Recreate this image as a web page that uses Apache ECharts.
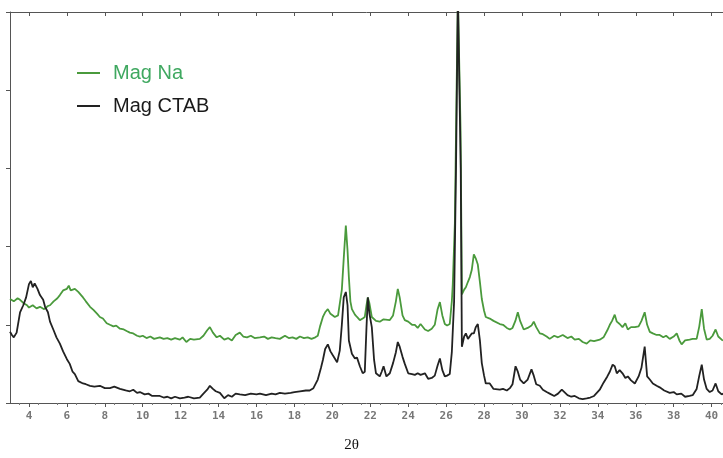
<!DOCTYPE html>
<html>
<head>
<meta charset="utf-8">
<script src="https://cdn.jsdelivr.net/npm/echarts@6/dist/echarts.min.js"></script>
<style>html,body{margin:0;padding:0;background:#fff}#c{width:723px;height:458px}</style>
</head>
<body>
<div id="c"></div>
<script>
// 2θ tick labels
var tickLabels = [4,6,8,10,12,14,16,18,20,22,24,26,28,30,32,34,36,38,40];
var seriesNames = ['Mag Na', 'Mag CTAB'];

// Mag Na (green) : [2θ, intensity]
var magNa = [
[3.0,1.33],[3.2,1.30],[3.4,1.34],[3.53,1.32],[3.7,1.28],[3.9,1.25],[4.0,1.22],[4.2,1.25],[4.4,1.21],[4.58,1.23],
[4.8,1.20],[5.0,1.24],[5.11,1.25],[5.3,1.30],[5.5,1.34],[5.63,1.38],[5.8,1.44],[6.0,1.46],[6.1,1.50],[6.2,1.44],
[6.42,1.46],[6.6,1.42],[6.85,1.35],[7.0,1.30],[7.22,1.23],[7.4,1.19],[7.6,1.14],[7.74,1.10],[7.9,1.08],[8.1,1.02],
[8.27,1.00],[8.45,0.98],[8.6,0.99],[8.8,0.95],[9.0,0.94],[9.15,0.92],[9.32,0.90],[9.5,0.89],[9.7,0.86],[9.85,0.85],
[10.0,0.86],[10.2,0.83],[10.4,0.85],[10.6,0.82],[10.9,0.84],[11.1,0.82],[11.3,0.83],[11.5,0.81],[11.7,0.83],[11.96,0.81],
[12.1,0.84],[12.3,0.78],[12.5,0.82],[12.7,0.81],[13.01,0.82],[13.2,0.86],[13.4,0.93],[13.54,0.97],[13.7,0.90],[13.9,0.84],
[14.07,0.86],[14.3,0.81],[14.5,0.83],[14.7,0.80],[14.9,0.87],[15.12,0.90],[15.3,0.85],[15.5,0.84],[15.7,0.86],[15.9,0.83],
[16.18,0.84],[16.4,0.85],[16.6,0.82],[16.8,0.84],[17.0,0.83],[17.23,0.82],[17.5,0.86],[17.7,0.83],[17.9,0.84],[18.1,0.82],
[18.29,0.85],[18.5,0.83],[18.7,0.84],[18.9,0.82],[19.1,0.84],[19.23,0.86],[19.35,0.98],[19.5,1.10],[19.62,1.16],[19.76,1.20],
[19.9,1.14],[20.13,1.10],[20.3,1.12],[20.39,1.14],[20.5,1.45],[20.6,1.85],[20.71,2.27],[20.8,1.95],[20.87,1.61],[20.95,1.30],
[21.03,1.20],[21.19,1.13],[21.3,1.10],[21.45,1.06],[21.6,1.08],[21.71,1.10],[21.8,1.25],[21.87,1.35],[21.95,1.28],[22.08,1.10],
[22.3,1.05],[22.5,1.04],[22.7,1.07],[23.03,1.06],[23.2,1.12],[23.35,1.30],[23.45,1.46],[23.55,1.35],[23.7,1.12],[23.82,1.06],
[24.0,1.04],[24.2,1.00],[24.35,1.00],[24.5,0.96],[24.65,1.01],[24.88,0.94],[25.05,0.92],[25.24,0.95],[25.4,1.00],[25.55,1.20],
[25.67,1.29],[25.8,1.12],[25.93,1.01],[26.05,0.99],[26.19,1.01],[26.3,1.30],[26.35,1.52],[26.46,2.3],[26.55,4.0],[26.62,5.2],
[26.7,5.2],[26.76,3.5],[26.83,1.39],[26.95,1.45],[27.04,1.48],[27.15,1.55],[27.25,1.61],[27.35,1.70],[27.46,1.90],[27.56,1.85],
[27.67,1.77],[27.78,1.55],[27.88,1.33],[28.0,1.18],[28.09,1.10],[28.3,1.08],[28.5,1.05],[28.83,1.01],[29.0,1.00],[29.2,0.96],
[29.36,0.94],[29.5,0.96],[29.65,1.05],[29.78,1.16],[29.9,1.05],[30.09,0.94],[30.3,0.96],[30.5,0.99],[30.62,1.04],[30.75,0.97],
[30.94,0.89],[31.1,0.88],[31.3,0.85],[31.46,0.82],[31.7,0.86],[31.9,0.84],[32.15,0.87],[32.4,0.83],[32.6,0.85],[32.78,0.81],
[33.0,0.82],[33.2,0.78],[33.41,0.76],[33.6,0.80],[33.8,0.79],[34.1,0.81],[34.3,0.84],[34.5,0.93],[34.63,1.00],[34.75,1.05],
[34.89,1.13],[35.0,1.04],[35.15,1.01],[35.3,0.97],[35.45,1.02],[35.58,0.94],[35.75,0.97],[35.95,0.97],[36.15,0.98],[36.3,1.05],
[36.47,1.16],[36.6,1.00],[36.74,0.91],[36.9,0.89],[37.1,0.87],[37.26,0.87],[37.45,0.84],[37.6,0.86],[37.79,0.82],[38.0,0.85],
[38.16,0.89],[38.3,0.80],[38.42,0.75],[38.6,0.80],[38.84,0.81],[39.0,0.82],[39.21,0.82],[39.35,0.98],[39.48,1.20],[39.6,0.95],
[39.74,0.81],[39.9,0.82],[40.05,0.86],[40.21,0.94],[40.35,0.85],[40.53,0.81],[40.6,0.80]
];

// Mag CTAB (black) : [2θ, intensity]
var magCTAB = [
[3.0,0.91],[3.1,0.87],[3.2,0.84],[3.35,0.90],[3.53,1.16],[3.7,1.25],[3.85,1.35],[4.0,1.52],[4.1,1.56],[4.2,1.48],
[4.3,1.53],[4.45,1.46],[4.58,1.38],[4.75,1.32],[4.85,1.23],[5.0,1.16],[5.11,1.04],[5.3,0.93],[5.45,0.84],[5.63,0.76],
[5.8,0.66],[6.0,0.56],[6.15,0.50],[6.3,0.40],[6.42,0.37],[6.6,0.28],[6.85,0.25],[7.0,0.24],[7.22,0.22],[7.45,0.21],
[7.74,0.22],[8.0,0.19],[8.27,0.19],[8.5,0.21],[8.8,0.18],[9.1,0.16],[9.32,0.15],[9.5,0.17],[9.7,0.13],[9.85,0.14],
[10.1,0.11],[10.3,0.12],[10.5,0.09],[10.9,0.09],[11.1,0.07],[11.3,0.08],[11.5,0.06],[11.7,0.08],[11.96,0.06],[12.2,0.07],
[12.4,0.08],[12.7,0.06],[13.01,0.07],[13.2,0.12],[13.4,0.17],[13.54,0.22],[13.7,0.18],[13.85,0.15],[14.07,0.13],[14.3,0.06],
[14.5,0.10],[14.7,0.08],[14.9,0.12],[15.12,0.11],[15.4,0.10],[15.7,0.12],[16.0,0.11],[16.18,0.12],[16.5,0.10],[16.8,0.12],
[17.0,0.11],[17.23,0.13],[17.5,0.12],[17.8,0.13],[18.0,0.14],[18.29,0.15],[18.6,0.16],[18.8,0.16],[19.0,0.19],[19.23,0.30],
[19.4,0.45],[19.5,0.55],[19.62,0.69],[19.76,0.75],[19.9,0.66],[20.0,0.62],[20.13,0.57],[20.25,0.52],[20.39,0.67],[20.5,1.0],
[20.6,1.35],[20.71,1.42],[20.8,1.25],[20.87,0.80],[21.03,0.63],[21.19,0.57],[21.3,0.58],[21.45,0.47],[21.6,0.38],[21.71,0.40],
[21.8,0.97],[21.87,1.35],[21.95,1.15],[22.08,0.97],[22.2,0.55],[22.3,0.38],[22.5,0.34],[22.6,0.40],[22.7,0.47],[22.85,0.34],
[23.03,0.38],[23.2,0.51],[23.35,0.65],[23.45,0.78],[23.55,0.72],[23.7,0.59],[23.82,0.50],[24.0,0.38],[24.2,0.37],[24.35,0.36],
[24.5,0.38],[24.65,0.36],[24.88,0.38],[25.05,0.31],[25.24,0.32],[25.4,0.35],[25.55,0.48],[25.67,0.57],[25.8,0.42],[25.93,0.34],
[26.05,0.35],[26.19,0.37],[26.3,0.65],[26.42,1.3],[26.52,3.0],[26.62,5.2],[26.7,5.2],[26.77,3.0],[26.83,0.72],[26.95,0.85],
[27.04,0.89],[27.15,0.82],[27.25,0.81],[27.35,0.89],[27.46,0.89],[27.56,0.97],[27.67,1.01],[27.78,0.80],[27.88,0.51],[28.0,0.35],
[28.09,0.25],[28.3,0.25],[28.5,0.18],[28.83,0.17],[29.0,0.18],[29.2,0.16],[29.36,0.19],[29.5,0.24],[29.66,0.47],[29.78,0.40],
[29.9,0.30],[30.09,0.25],[30.3,0.30],[30.5,0.43],[30.62,0.35],[30.75,0.24],[30.94,0.22],[31.1,0.17],[31.3,0.14],[31.46,0.12],
[31.7,0.09],[31.9,0.12],[32.1,0.17],[32.2,0.19],[32.4,0.10],[32.6,0.08],[32.78,0.09],[33.0,0.06],[33.2,0.05],[33.41,0.06],
[33.6,0.07],[33.8,0.09],[34.1,0.17],[34.3,0.26],[34.5,0.34],[34.63,0.40],[34.78,0.49],[34.89,0.47],[35.0,0.38],[35.15,0.42],
[35.3,0.38],[35.45,0.32],[35.58,0.34],[35.75,0.29],[35.95,0.25],[36.15,0.34],[36.3,0.45],[36.47,0.72],[36.6,0.34],[36.74,0.30],
[36.9,0.25],[37.1,0.22],[37.26,0.20],[37.5,0.16],[37.79,0.13],[38.0,0.14],[38.16,0.11],[38.4,0.12],[38.6,0.08],[38.84,0.09],
[39.0,0.10],[39.21,0.18],[39.35,0.35],[39.48,0.49],[39.6,0.30],[39.74,0.18],[39.9,0.14],[40.05,0.16],[40.21,0.25],[40.35,0.15],
[40.53,0.11],[40.6,0.12]
];

var chart = echarts.init(document.getElementById('c'), null, {renderer: 'canvas'});
var axisColor = '#555';
chart.setOption({
  animation: false,
  backgroundColor: '#fff',
  grid: {left: 10, top: 12, right: 0, bottom: 51},
  legend: {
    orient: 'vertical',
    left: 72, top: 58,
    itemWidth: 23, itemHeight: 2,
    itemGap: 13,
    icon: 'rect',
    textStyle: {fontFamily: 'Liberation Sans', fontSize: 20, lineHeight: 20, padding: [0, 0, 0, 8]},
    data: [
      {name: seriesNames[0], textStyle: {color: '#3fa860'}},
      {name: seriesNames[1], textStyle: {color: '#1a1a1a'}}
    ]
  },
  xAxis: [{
    type: 'value', min: 3, max: 40.6, interval: 1,
    position: 'bottom',
    name: '2θ', nameLocation: 'middle', nameGap: 35,
    nameTextStyle: {fontFamily: 'Liberation Serif', fontSize: 15, color: '#111', padding: [0, 30, 0, 0]},
    axisLine: {show: true, onZero: false, lineStyle: {color: axisColor, width: 1}},
    axisTick: {show: true, inside: false, length: 4, lineStyle: {color: axisColor}, customValues: tickLabels},
    minorTick: {show: true, splitNumber: 2, length: 2, lineStyle: {color: '#777'}},
    axisLabel: {customValues: tickLabels, margin: 8, fontFamily: 'DejaVu Sans Mono', fontSize: 11, color: '#777', fontWeight: 'bold'},
    splitLine: {show: false}
  }, {
    type: 'value', min: 3, max: 40.6, interval: 1,
    position: 'top',
    axisLine: {show: true, onZero: false, lineStyle: {color: axisColor, width: 1}},
    axisTick: {show: true, inside: true, length: 4, lineStyle: {color: axisColor}, customValues: tickLabels},
    axisLabel: {show: false},
    splitLine: {show: false}
  }],
  yAxis: {
    type: 'value', min: 0, max: 5, interval: 1,
    axisLine: {show: true, lineStyle: {color: axisColor, width: 1}},
    axisTick: {show: true, inside: false, length: 4, lineStyle: {color: axisColor}},
    axisLabel: {show: false},
    splitLine: {show: false}
  },
  series: [
    {name: seriesNames[0], type: 'line', data: magNa, showSymbol: false, symbol: 'none', clip: true,
     color: '#4a9a3c', lineStyle: {color: '#4a9a3c', width: 1.8}},
    {name: seriesNames[1], type: 'line', data: magCTAB, showSymbol: false, symbol: 'none', clip: true,
     color: '#222', lineStyle: {color: '#222', width: 1.8}}
  ]
});
</script>
</body>
</html>
